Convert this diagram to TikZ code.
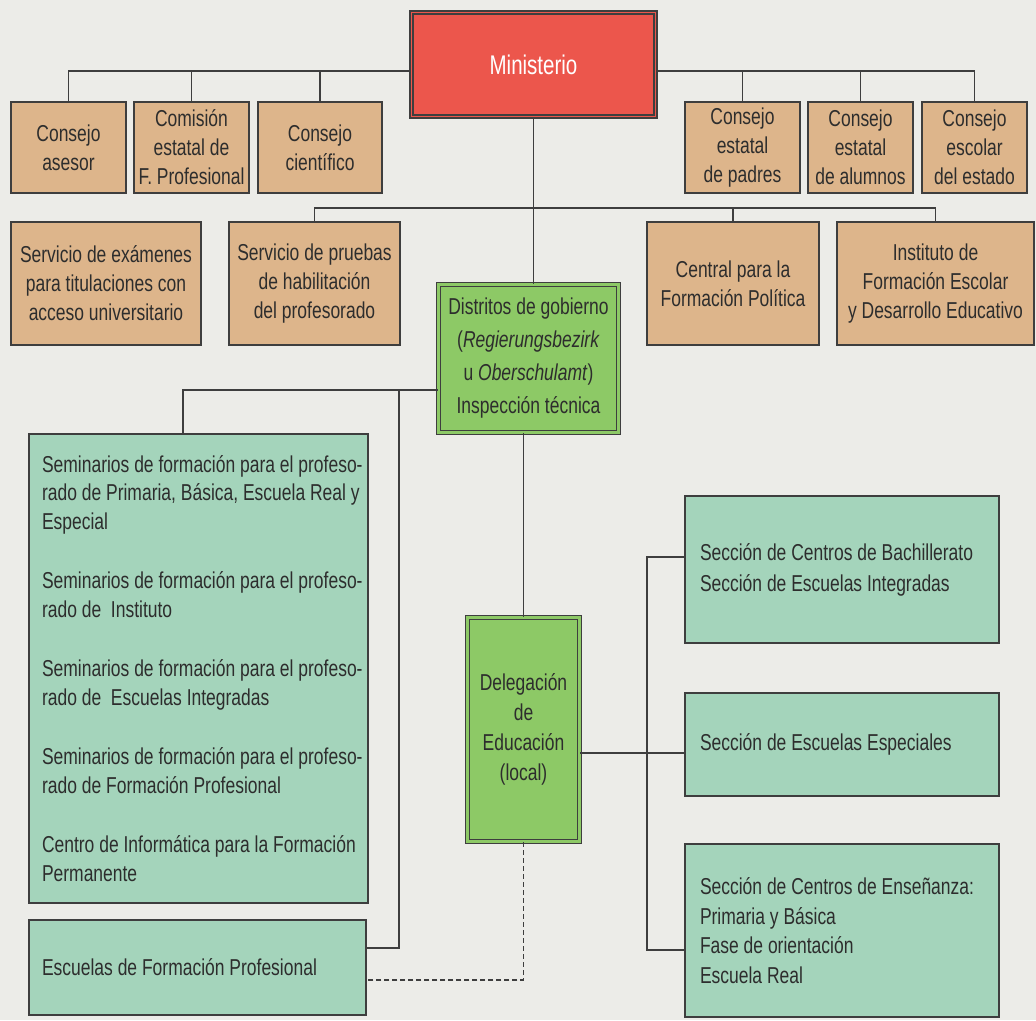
\documentclass[tikz,border=0pt]{standalone}
\usepackage{fontspec}
\setmainfont[FakeStretch=0.76]{Liberation Sans}
\usetikzlibrary{calc}
\definecolor{cBg}{RGB}{236,236,232}
\definecolor{cTan}{RGB}{221,181,139}
\definecolor{cRed}{RGB}{236,86,76}
\definecolor{cGrn}{RGB}{141,201,102}
\definecolor{cTeal}{RGB}{164,212,187}
\definecolor{cLn}{RGB}{62,62,62}
\definecolor{cTxt}{RGB}{45,45,45}
\newcommand{\ol}[1]{\mbox{\spaceskip=0pt\xspaceskip=0pt #1}}
\begin{document}
\begin{tikzpicture}[x=1pt,y=-1pt,
  base/.style={draw=cLn, line width=1.3pt, inner sep=0pt, text=cTxt,
               font=\fontsize{23}{29}\selectfont},
  tanbox/.style={base, fill=cTan, align=center},
  grnbox/.style={base, fill=cGrn, double=cGrn, double distance=2.5pt, line width=1.2pt, align=center},
  tealbox/.style={base, fill=cTeal, align=left},
  conn/.style={draw=cLn, line width=1.3pt},
  dconn/.style={conn, dash pattern=on 5pt off 3pt}]
\fill[cBg] (0,0) rectangle (1036,1020);
\useasboundingbox (0,0) rectangle (1036,1020);

% Ministerio
\node[tanbox, fill=cRed, text=white, double=cRed, double distance=1.8pt, line width=2pt,
      minimum width=244pt, minimum height=104pt, font=\fontsize{27}{32}\selectfont]
      (min) at (533.5,64.5) {Ministerio};

% row 1
\node[tanbox, minimum width=115pt, minimum height=91pt] (ca) at (68.5,147.5) {Consejo\\asesor};
\node[tanbox, minimum width=115pt, minimum height=91pt] (cefp) at (191.5,147.5) {Comisión\\estatal de\\F. Profesional};
\node[tanbox, minimum width=124pt, minimum height=91pt] (cc) at (320,147.5) {Consejo\\científico};
\node[tanbox, minimum width=115pt, minimum height=91pt] (cep) at (742.5,147.5) {Consejo\\estatal\\de padres};
\node[tanbox, minimum width=105pt, minimum height=91pt] (cea) at (860.5,147.5) {Consejo\\estatal\\de alumnos};
\node[tanbox, minimum width=105pt, minimum height=91pt] (cee) at (974.5,147.5) {Consejo\\escolar\\del estado};

% row 2
\node[tanbox, minimum width=190pt, minimum height=123pt] (se) at (106,283.5) {Servicio de exámenes\\para titulaciones con\\acceso universitario};
\node[tanbox, minimum width=171pt, minimum height=123pt] (sp) at (314.5,283.5) {Servicio de pruebas\\de habilitación\\del profesorado};
\node[tanbox, minimum width=172pt, minimum height=123pt] (cfp) at (733,283.5) {Central para la\\Formación Política};
\node[tanbox, minimum width=197pt, minimum height=123pt] (ife) at (935.5,283.5) {Instituto de\\Formación Escolar\\y Desarrollo Educativo};

% Distritos and Delegacion
\node[grnbox, minimum width=180pt, minimum height=148pt, font=\fontsize{23}{33}\selectfont]
      (dis) at (528.5,358.5) {Distritos de gobierno\\(\textit{Regierungsbezirk}\\u \textit{Oberschulamt})\\Inspección técnica};
\node[grnbox, minimum width=112pt, minimum height=224pt, font=\fontsize{23}{30}\selectfont]
      (del) at (523.5,729.5) {Delegación\\de\\Educación\\(local)};

% left teal boxes
\node[tealbox, minimum width=339pt, minimum height=469pt, text width=313pt, inner xsep=13pt,
      font=\fontsize{23}{28.5}\selectfont]
      (sem) at (198.5,668.5) {\ol{Seminarios de formación para el profeso-}\\\ol{rado de Primaria, Básica, Escuela Real y}\\\ol{Especial}\\[31pt]
      \ol{Seminarios de formación para el profeso-}\\\ol{rado de~ Instituto}\\[31pt]
      \ol{Seminarios de formación para el profeso-}\\\ol{rado de~ Escuelas Integradas}\\[31pt]
      \ol{Seminarios de formación para el profeso-}\\\ol{rado de Formación Profesional}\\[31pt]
      \ol{Centro de Informática para la Formación}\\\ol{Permanente}};
\node[tealbox, minimum width=337pt, minimum height=95pt, text width=311pt, inner xsep=13pt]
      (efp) at (197.5,967.5) {\ol{Escuelas de Formación Profesional}};

% right teal boxes
\node[tealbox, minimum width=314pt, minimum height=147pt, text width=284pt, inner xsep=15pt, font=\fontsize{23}{31}\selectfont]
      (bach) at (842,569.5) {\ol{Sección de Centros de Bachillerato}\\\ol{Sección de Escuelas Integradas}};
\node[tealbox, minimum width=314pt, minimum height=103pt, text width=284pt, inner xsep=15pt]
      (esp) at (842,744.5) {\ol{Sección de Escuelas Especiales}};
\node[tealbox, minimum width=314pt, minimum height=173pt, text width=284pt, inner xsep=15pt, font=\fontsize{23}{29.5}\selectfont]
      (ens) at (842,930.5) {\ol{Sección de Centros de Enseñanza:}\\\ol{Primaria y Básica}\\\ol{Fase de orientación}\\\ol{Escuela Real}};

% connectors from Ministerio
\draw[conn] (ca.north) |- (min.west |- 0,71);
\draw[conn] (cefp.north) -- (cefp.north |- 0,71);
\draw[conn] (cc.north) -- (cc.north |- 0,71);
\draw[conn] (min.east |- 0,71) -| (cee.north);
\draw[conn] (cep.north) -- (cep.north |- 0,71);
\draw[conn] (cea.north) -- (cea.north |- 0,71);
\draw[conn] (min.south) -- (min.south |- dis.north);
% row 2 line
\draw[conn] (sp.north) |- (ife.north |- 0,208) -- (ife.north);
\draw[conn] (cfp.north) -- (cfp.north |- 0,208);
% Distritos to left side
\coordinate (semtop) at (183,0 |- sem.north);
\draw[conn] (dis.west |- 0,390) -| (semtop);
\draw[conn] (dis.west |- 0,390) -| (399,948) -- (efp.east |- 0,948);
% Distritos to Delegacion
\draw[conn] (del.north |- dis.south) -- (del.north);
% Delegacion dashed to Escuelas FP
\draw[dconn] (del.south) |- (efp.east |- 0,980);
% Delegacion to right boxes
\draw[conn] (del.east |- 0,753) -- (esp.west |- 0,753);
\draw[conn] (bach.west |- 0,557) -| (647,950) -- (ens.west |- 0,950);
\end{tikzpicture}
\end{document}
